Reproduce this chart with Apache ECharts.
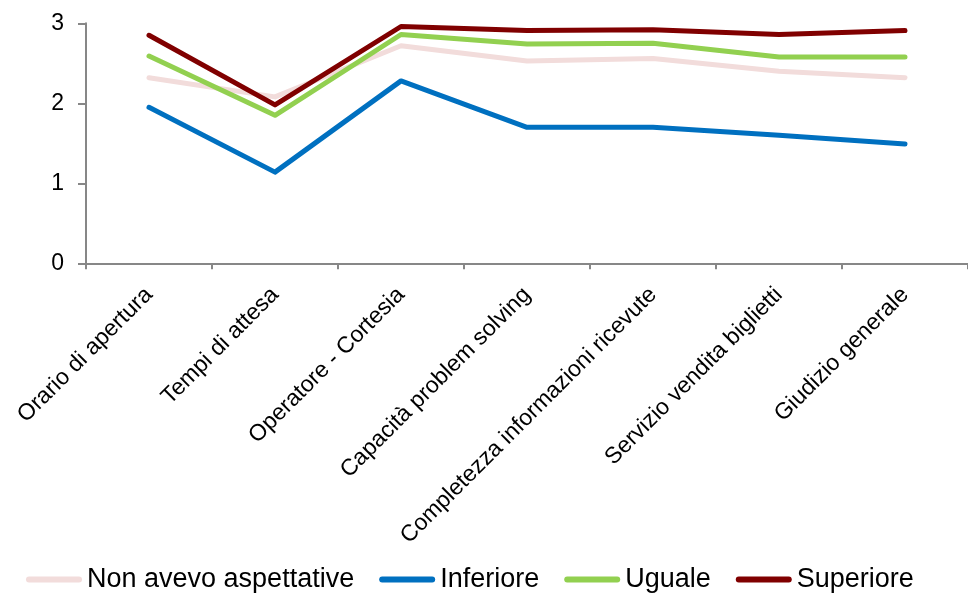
<!DOCTYPE html>
<html>
<head>
<meta charset="utf-8">
<script src="https://cdn.jsdelivr.net/npm/echarts@6/dist/echarts.min.js"></script>
<style>
  html, body { margin: 0; padding: 0; background: #fff; }
  #chart { width: 968px; height: 593px; }
</style>
</head>
<body>
<div id="chart"></div>
<script>
// Aspetti del servizio valutati
const categories = [
  'Orario di apertura',
  'Tempi di attesa',
  'Operatore - Cortesia',
  'Capacità problem solving',
  'Completezza informazioni ricevute',
  'Servizio vendita biglietti',
  'Giudizio generale'
];

// Punteggi medi per gruppo di aspettativa
const nonAvevoAspettative = [2.32, 2.08, 2.72, 2.53, 2.56, 2.40, 2.32];
const inferiore           = [1.95, 1.14, 2.28, 1.70, 1.70, 1.60, 1.49];
const uguale              = [2.59, 1.85, 2.86, 2.74, 2.75, 2.58, 2.58];
const superiore           = [2.85, 1.98, 2.96, 2.91, 2.92, 2.86, 2.91];

const yTicks = { min: 0, max: 3, interval: 1 };

const seriesDefs = [
  { name: 'Non avevo aspettative', data: nonAvevoAspettative, color: '#f2dcdb' },
  { name: 'Inferiore',             data: inferiore,           color: '#0070c0' },
  { name: 'Uguale',                data: uguale,              color: '#92d050' },
  { name: 'Superiore',             data: superiore,           color: '#800000' }
];

const axisGray = '#878787';
const font = '"Liberation Sans", Arial, sans-serif';
// pill-shaped legend key with rounded ends
const pillIcon = 'path://M3,0 L53,0 A3,3 0 0 1 53,6 L3,6 A3,3 0 0 1 3,0 Z';

const chart = echarts.init(document.getElementById('chart'), null, { renderer: 'canvas' });

chart.setOption({
  animation: false,
  backgroundColor: '#ffffff',
  grid: { left: 86, top: 23.3, right: -11, bottom: 329.7, containLabel: false },
  xAxis: {
    type: 'category',
    data: categories,
    boundaryGap: true,
    axisLine: { lineStyle: { color: axisGray, width: 2 } },
    axisTick: { show: true, length: 6, alignWithLabel: false, lineStyle: { color: axisGray, width: 2 } },
    axisLabel: {
      interval: 0,
      rotate: 45,
      margin: 28,
      color: '#000',
      fontFamily: font,
      fontSize: 23
    },
    splitLine: { show: false }
  },
  yAxis: {
    type: 'value',
    min: yTicks.min,
    max: yTicks.max,
    interval: yTicks.interval,
    axisLine: { show: true, lineStyle: { color: axisGray, width: 2 } },
    axisTick: { show: true, length: 8, lineStyle: { color: axisGray, width: 2 } },
    axisLabel: { margin: 22, color: '#000', fontFamily: font, fontSize: 23 },
    splitLine: { show: false }
  },
  legend: {
    left: 26,
    top: 566,
    padding: 0,
    itemWidth: 56,
    itemHeight: 6,
    itemGap: 25,
    icon: pillIcon,
    textStyle: { color: '#000', fontFamily: font, fontSize: 27 },
    data: seriesDefs.map(s => s.name)
  },
  series: seriesDefs.map(s => ({
    name: s.name,
    type: 'line',
    data: s.data,
    symbol: 'none',
    showSymbol: false,
    smooth: false,
    color: s.color,
    itemStyle: { color: s.color },
    lineStyle: { color: s.color, width: 5, cap: 'round', join: 'round' },
    emphasis: { disabled: true }
  }))
});
</script>
</body>
</html>
